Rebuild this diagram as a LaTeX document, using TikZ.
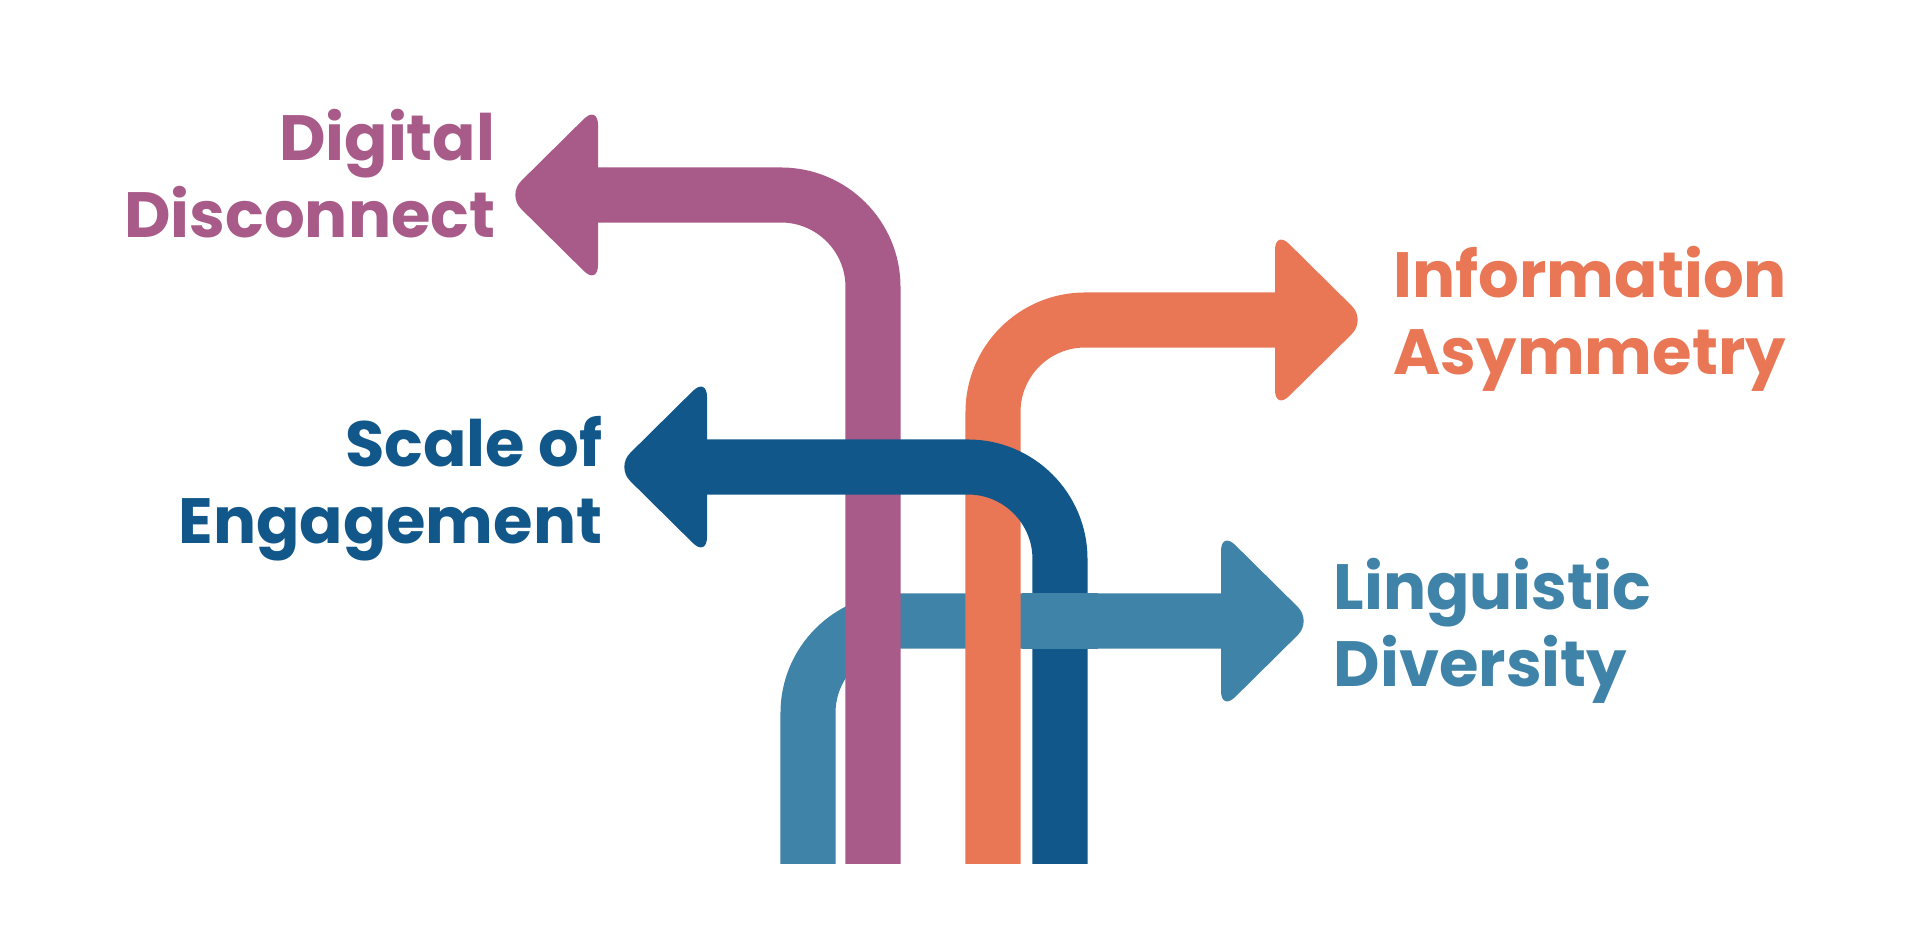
\documentclass[tikz,border=0pt]{standalone}
\usepackage{fontspec}
\setmainfont{Poppins}
\usetikzlibrary{positioning}
\definecolor{digcol}{HTML}{A85B89}
\definecolor{engcol}{HTML}{11578A}
\definecolor{infcol}{HTML}{E97756}
\definecolor{lngcol}{HTML}{4083A8}
\tikzstyle{band} = [line width=0.55cm, rounded corners=0.92cm]
\tikzstyle{head} = [rounded corners=0.2cm]
\tikzstyle{lbl} = [font=\fontsize{18.2}{21.9}\selectfont\bfseries, inner sep=0pt]

\begin{document}
\begin{tikzpicture}[x=0.01cm,y=-0.01cm]
  \useasboundingbox (0,0) rectangle (1920,931);

  % linguistic diversity (lowest)
  \draw[band,lngcol] (808,864) -- (808,621) -- (1230,621);
  \fill[head,lngcol] (1221,531) -- (1312,621) -- (1221,711) -- cycle;

  % digital disconnect
  \draw[band,digcol] (873,864) -- (873,195) -- (590,195);
  \fill[head,digcol] (598,105) -- (507,195) -- (598,285) -- cycle;

  % information asymmetry
  \draw[band,infcol] (993,864) -- (993,320) -- (1282,320);
  \fill[head,infcol] (1275,230) -- (1366,320) -- (1275,410) -- cycle;

  % scale of engagement
  \draw[band,engcol] (1060,864) -- (1060,467) -- (700,467);
  \fill[head,engcol] (707,377) -- (616,467) -- (707,557) -- cycle;

  % weave: light blue back over the navy band
  \draw[line width=0.55cm,lngcol] (1022,621) -- (1098,621);

  \node[lbl,digcol,align=right,anchor=base east] (digital) at (496,238) {Digital\\Disconnect};
  \node[lbl,engcol,align=right,anchor=base east] (scale) at (603,544) {Scale of\\Engagement};
  \node[lbl,infcol,align=left,anchor=base west] (info) at (1393,375) {Information\\Asymmetry};
  \node[lbl,lngcol,align=left,anchor=base west] (ling) at (1333,687) {Linguistic\\Diversity};
\end{tikzpicture}
\end{document}
